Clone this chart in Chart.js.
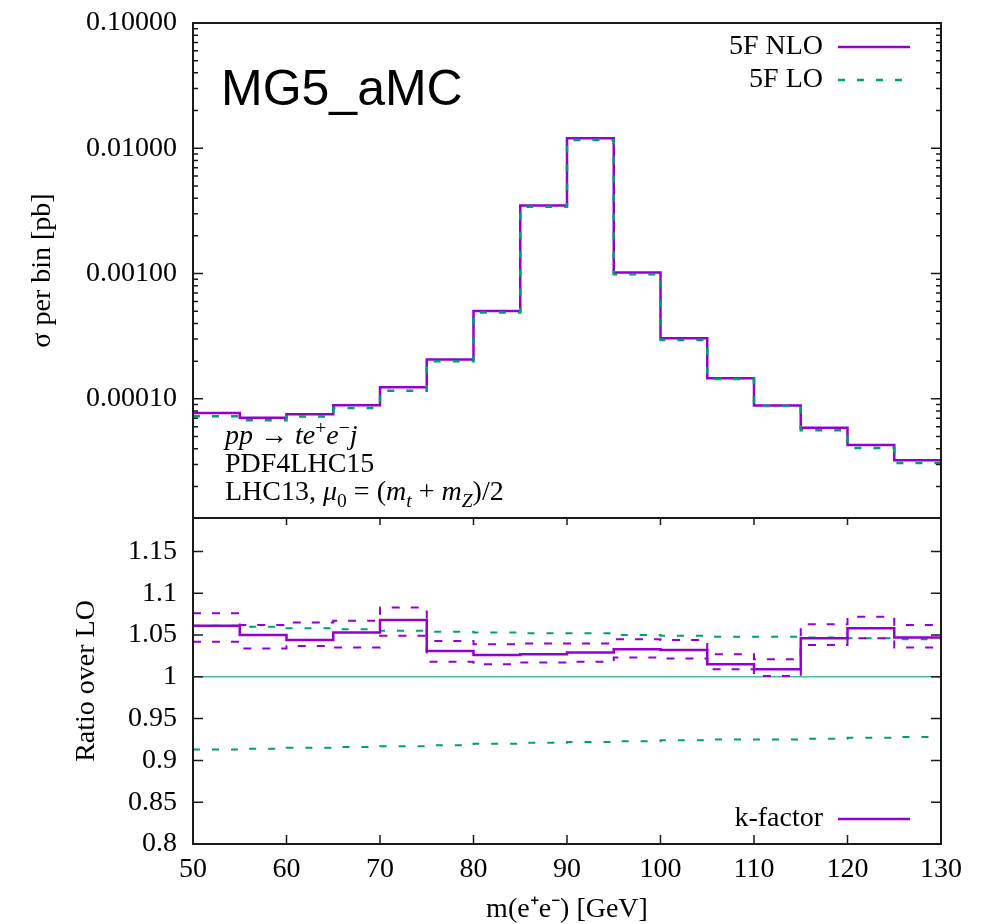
<!DOCTYPE html>
<html>
<head>
<meta charset="utf-8">
<title>m(e+e-) distribution</title>
<script src="https://cdn.jsdelivr.net/npm/chart.js@4.4.1/dist/chart.umd.min.js"></script>
<style>
    body { margin: 0; background: #fff; }
    #wrap { position: relative; width: 982px; height: 924px; }
    canvas { position: absolute; left: 0; top: 0; }
    .brand { position: absolute; left: 221px; top: 63px; font-family: "Liberation Sans", Arial, sans-serif; font-size: 50px; line-height: 50px; color: #000; }
    .note { position: absolute; left: 225px; top: 421px; font-family: "Liberation Serif", serif; font-size: 28px; line-height: 28px; color: #000; white-space: nowrap; }
    .note sup, .note sub { font-size: 0.7em; line-height: 0; }
</style>
</head>
<body>
<div id="wrap">
    <canvas id="dist-chart" width="982" height="924"></canvas>
    <canvas id="ratio-chart" width="982" height="924"></canvas>
    <div class="brand">MG5_aMC</div>
    <div class="note">
        <i>pp</i> → <i>te</i><sup>+</sup><i>e</i><sup>−</sup><i>j</i><br>
        PDF4LHC15<br>
        LHC13, <i>μ</i><sub>0</sub> = (<i>m</i><sub><i>t</i></sub> + <i>m</i><sub><i>Z</i></sub>)/2
    </div>
</div>
<script>
// bin edges in GeV (5 GeV bins)
const binEdges = [50, 55, 60, 65, 70, 75, 80, 85, 90, 95, 100, 105, 110, 115, 120, 125, 130];

// cross section per bin [pb]
const nloValues = [7.73e-5, 7.08e-5, 7.54e-5, 8.90e-5, 1.24e-4, 2.06e-4, 5.03e-4, 3.50e-3,
                   1.20e-2, 1.02e-3, 3.04e-4, 1.46e-4, 8.85e-5, 5.89e-5, 4.29e-5, 3.23e-5];
const loValues = [7.28e-5, 6.74e-5, 7.22e-5, 8.45e-5, 1.16e-4, 2.00e-4, 4.90e-4, 3.41e-3,
                  1.166e-2, 0.99e-3, 2.95e-4, 1.44e-4, 8.77e-5, 5.63e-5, 4.06e-5, 3.08e-5];

// ratio panel
const kFactor = [1.061, 1.050, 1.044, 1.053, 1.068, 1.031, 1.026, 1.027, 1.029, 1.033, 1.032, 1.015, 1.009, 1.046, 1.058, 1.047];
const kUp     = [1.076, 1.062, 1.065, 1.067, 1.083, 1.043, 1.039, 1.040, 1.040, 1.045, 1.044, 1.027, 1.021, 1.063, 1.072, 1.062];
const kDown   = [1.042, 1.034, 1.037, 1.035, 1.049, 1.018, 1.015, 1.017, 1.018, 1.023, 1.022, 1.009, 1.001, 1.038, 1.046, 1.035];
const loUp    = [1.061, 1.060, 1.058, 1.057, 1.055, 1.054, 1.053, 1.052, 1.052, 1.050, 1.049, 1.048, 1.048, 1.047, 1.046, 1.045];
const loDown  = [0.913, 0.914, 0.915, 0.916, 0.917, 0.918, 0.920, 0.921, 0.922, 0.923, 0.924, 0.925, 0.925, 0.926, 0.927, 0.928];

// tick labels
const xTicks = [50, 60, 70, 80, 90, 100, 110, 120, 130];
const yTicksTop = [0.0001, 0.001, 0.01, 0.1];
const yTicksRatio = [0.8, 0.85, 0.9, 0.95, 1, 1.05, 1.1, 1.15];

const PURPLE = '#9400D3';
const GREEN = '#009E73';
const SERIF = '"Liberation Serif", "Times New Roman", serif';

Chart.defaults.font.family = SERIF;
Chart.defaults.color = '#000';

// histogram as step line: one point per left edge, plus the closing edge
function steps(vals) {
    const pts = vals.map((v, i) => ({ x: binEdges[i], y: v }));
    pts.push({ x: binEdges[binEdges.length - 1], y: vals[vals.length - 1] });
    return pts;
}

function stepSet(label, vals, color, width, dash, order) {
    return {
        label: label,
        data: steps(vals),
        stepped: 'before', // hold the bin value until the next edge
        borderColor: color,
        backgroundColor: 'transparent',
        borderWidth: width,
        borderDash: dash,
        pointRadius: 0,
        fill: false,
        order: order
    };
}

// gnuplot style frame with inward ticks
const framePlugin = {
    id: 'gnuFrame',
    afterDatasetsDraw(chart, args, opts) {
        const { ctx, chartArea: a, scales } = chart;
        const y = scales.y;
        ctx.save();
        ctx.strokeStyle = '#1a1a1a';
        ctx.lineWidth = 1.5;
        ctx.beginPath();
        const yTick = (py, len) => {
            ctx.moveTo(a.left, py); ctx.lineTo(a.left + len, py);
            ctx.moveTo(a.right, py); ctx.lineTo(a.right - len, py);
        };
        y.ticks.forEach(t => yTick(y.getPixelForValue(t.value), 10));
        if (opts.logMinor) {
            for (let e = -5; e <= -2; e++) {
                for (let m = 2; m <= 9; m++) {
                    const v = m * Math.pow(10, e);
                    if (v > y.min && v < y.max) yTick(y.getPixelForValue(v), 5);
                }
            }
        }
        if (opts.xTicks) {
            const x = scales.x;
            x.ticks.forEach(t => {
                const px = x.getPixelForValue(t.value);
                ctx.moveTo(px, a.bottom); ctx.lineTo(px, a.bottom - 9);
                ctx.moveTo(px, a.top); ctx.lineTo(px, a.top + 7);
            });
        }
        ctx.stroke();
        ctx.lineWidth = 2;
        ctx.strokeRect(a.left, a.top, a.right - a.left, a.bottom - a.top);
        ctx.restore();
    }
};

// key in the gnuplot manner: text right-aligned, sample line to its right
const keyPlugin = {
    id: 'gnuKey',
    afterDraw(chart, args, opts) {
        const { ctx, chartArea: a } = chart;
        ctx.save();
        (opts.items || []).forEach(it => {
            const ds = chart.data.datasets[it.index];
            const yy = it.top != null ? a.top + it.top : a.bottom - it.bottom;
            ctx.font = '28px ' + SERIF;
            ctx.fillStyle = '#000';
            ctx.textAlign = 'right';
            ctx.textBaseline = 'middle';
            ctx.fillText(ds.label, a.right - 118, yy);
            ctx.strokeStyle = ds.borderColor;
            ctx.lineWidth = ds.borderWidth;
            ctx.setLineDash(ds.borderDash || []);
            ctx.beginPath();
            ctx.moveTo(a.right - 103, yy);
            ctx.lineTo(a.right - 31, yy);
            ctx.stroke();
        });
        ctx.restore();
    }
};

const tickFont = { size: 28, family: SERIF };

// keep the chart area exactly where the layout padding puts it
function fixY(s) {
    s.width = 193;
    s.paddingTop = 0;
    s.paddingBottom = 0;
}

new Chart(document.getElementById('dist-chart'), {
    type: 'line',
    data: {
        datasets: [
            stepSet('5F NLO', nloValues, PURPLE, 2.5, [], 1),
            stepSet('5F LO', loValues, GREEN, 2.5, [7, 12], 0)
        ]
    },
    options: {
        responsive: false,
        animation: false,
        events: [],
        layout: { padding: { left: 0, right: 41, top: 23, bottom: 406 } },
        scales: {
            x: { type: 'linear', min: 50, max: 130, display: false },
            y: {
                type: 'logarithmic',
                min: 1.12e-5,
                max: 0.1,
                afterBuildTicks: s => { s.ticks = yTicksTop.map(v => ({ value: v })); },
                afterFit: fixY,
                grid: { display: false, drawTicks: false },
                border: { display: false },
                ticks: { font: tickFont, color: '#000', padding: 16, callback: v => Number(v).toFixed(5) },
                title: {
                    display: true,
                    text: 'σ per bin [pb]',
                    font: { size: 28, family: SERIF, lineHeight: 1 },
                    padding: { top: 29, bottom: 0 }
                }
            }
        },
        plugins: {
            legend: { display: false },
            tooltip: { enabled: false },
            gnuFrame: { logMinor: true },
            gnuKey: { items: [{ index: 0, top: 24 }, { index: 1, top: 57 }] }
        }
    },
    plugins: [framePlugin, keyPlugin]
});

new Chart(document.getElementById('ratio-chart'), {
    type: 'line',
    data: {
        datasets: [
            stepSet('k-factor', kFactor, PURPLE, 2.5, [], 0),
            stepSet('k-factor up', kUp, PURPLE, 2, [8, 11], 1),
            stepSet('k-factor down', kDown, PURPLE, 2, [8, 11], 1),
            stepSet('LO up', loUp, GREEN, 2, [7, 12], 2),
            stepSet('LO down', loDown, GREEN, 2, [7, 12], 2),
            {
                label: 'unity',
                data: [{ x: binEdges[0], y: 1 }, { x: binEdges[binEdges.length - 1], y: 1 }],
                borderColor: 'rgba(0, 158, 115, 0.7)',
                borderWidth: 1.5,
                pointRadius: 0,
                fill: false,
                order: 3
            }
        ]
    },
    options: {
        responsive: false,
        animation: false,
        events: [],
        layout: { padding: { left: 0, right: 41, top: 518, bottom: 0 } },
        scales: {
            x: {
                type: 'linear',
                min: 50,
                max: 130,
                afterBuildTicks: s => { s.ticks = xTicks.map(v => ({ value: v })); },
                afterFit: s => { s.height = 80; s.paddingLeft = 0; s.paddingRight = 0; },
                grid: { display: false, drawTicks: false },
                border: { display: false },
                ticks: { font: tickFont, color: '#000', padding: 9, maxRotation: 0, callback: v => String(v) },
                title: {
                    display: true,
                    text: 'm(e⁺e⁻) [GeV]',
                    font: { size: 28, family: SERIF, lineHeight: 1 },
                    padding: { top: 0, bottom: 0 }
                }
            },
            y: {
                type: 'linear',
                min: 0.8,
                max: 1.19,
                afterBuildTicks: s => { s.ticks = yTicksRatio.map(v => ({ value: v })); },
                afterFit: fixY,
                grid: { display: false, drawTicks: false },
                border: { display: false },
                ticks: { font: tickFont, color: '#000', padding: 16, callback: v => String(Number(v.toFixed(2))) },
                title: {
                    display: true,
                    text: 'Ratio over LO',
                    font: { size: 28, family: SERIF, lineHeight: 1 },
                    padding: { top: 73, bottom: 0 }
                }
            }
        },
        plugins: {
            legend: { display: false },
            tooltip: { enabled: false },
            gnuFrame: { xTicks: true },
            gnuKey: { items: [{ index: 0, bottom: 25 }] }
        }
    },
    plugins: [framePlugin, keyPlugin]
});
</script>
</body>
</html>
